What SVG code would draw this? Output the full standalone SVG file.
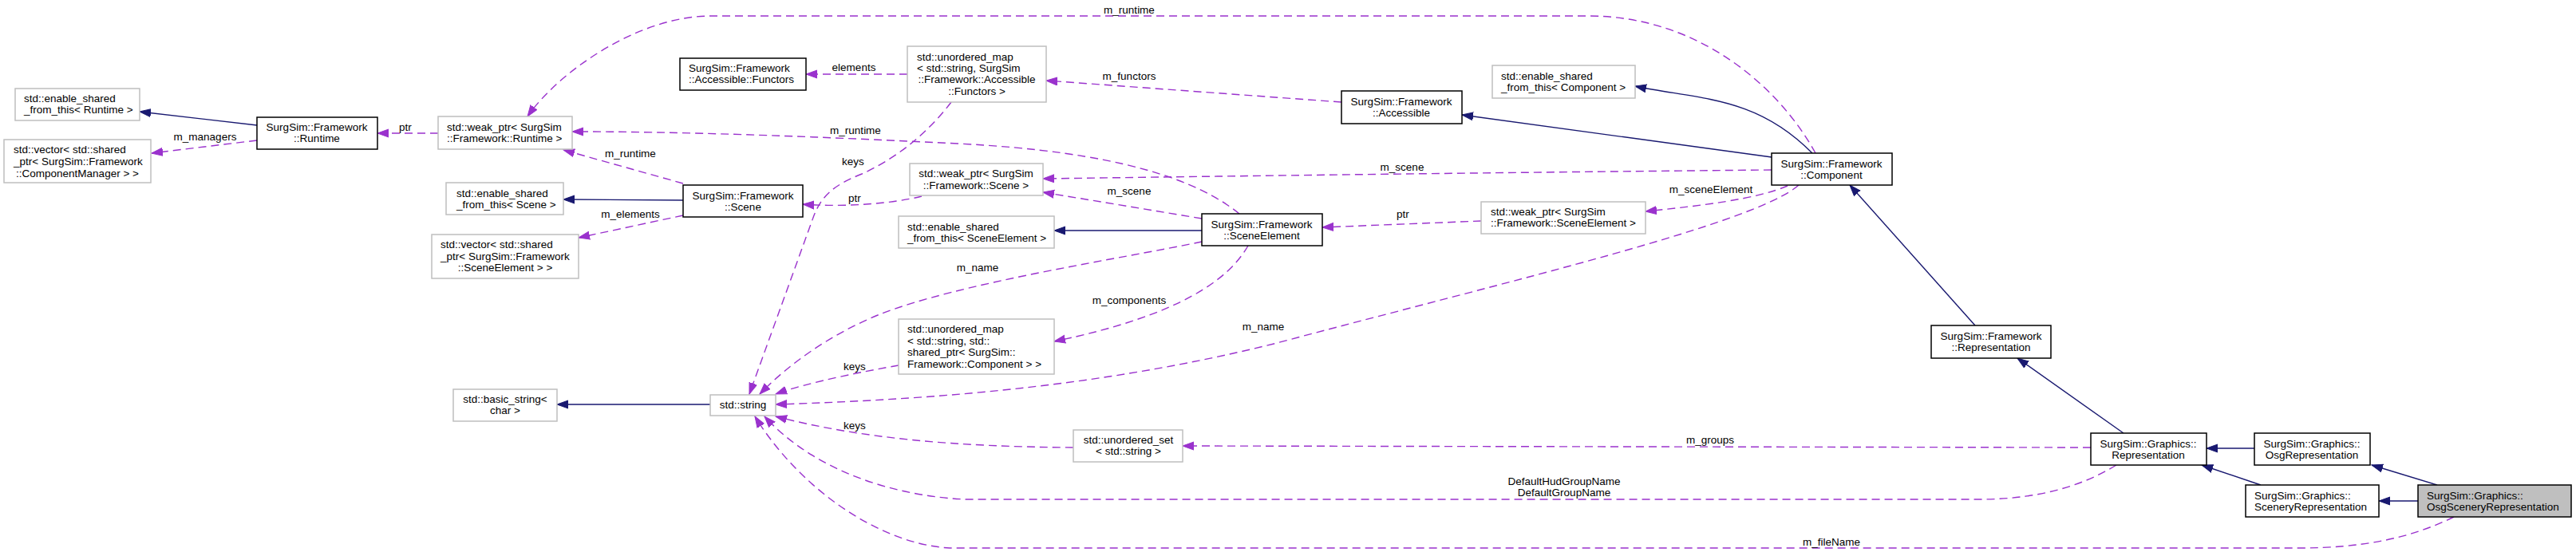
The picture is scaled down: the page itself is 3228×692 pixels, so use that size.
<svg xmlns="http://www.w3.org/2000/svg" width="3228" height="692" viewBox="0 0 3228 692">
<style>
text{font-family:"Liberation Sans",Arial,Helvetica,sans-serif;font-size:13.5px;fill:#000}
.m{text-anchor:middle}
rect.b{fill:#fff;stroke:#000;stroke-width:1.5}
rect.g{fill:#fff;stroke:#bfbfbf;stroke-width:1.5}
rect.f{fill:#bfbfbf;stroke:#000;stroke-width:1.5}
.inh path{fill:none;stroke:#191970;stroke-width:1.4;marker-end:url(#an)}
.use path{fill:none;stroke:#9a32cd;stroke-width:1.4;stroke-dasharray:10,6;marker-end:url(#ap)}
</style>
<defs>
<marker id="an" markerUnits="userSpaceOnUse" markerWidth="16" markerHeight="12" refX="14" refY="5.5" orient="auto"><path d="M0,0.5 L14,5.5 L0,10.5 z" fill="#191970" stroke="#191970" stroke-width="1"/></marker>
<marker id="ap" markerUnits="userSpaceOnUse" markerWidth="16" markerHeight="12" refX="14" refY="5.5" orient="auto"><path d="M0,0.5 L14,5.5 L0,10.5 z" fill="#9a32cd" stroke="#9a32cd" stroke-width="1"/></marker>
</defs>
<rect width="3228" height="692" fill="#fff"/>

<g id="connectors">
<g class="inh">
<path d="M322,157 L175,140"/>
<path d="M856,251 L706,250"/>
<path d="M1506,289 L1321,289"/>
<path d="M890,507 L698,507"/>
<path d="M2220,197 L1832,144"/>
<path d="M2271,192 C2200,120 2130,125 2049,108"/>
<path d="M2475,408 L2318,232"/>
<path d="M2661,543 L2528,449"/>
<path d="M2825,562 L2765,562"/>
<path d="M2833,608 L2759,583"/>
<path d="M3054,608 L2972,583"/>
<path d="M3030,628 L2981,628"/>
</g>
<g class="use">
<path d="M322,176 L190,192"/>
<path d="M549,167 L473,167"/>
<path d="M2275,192 C2230,110 2130,20 1990,20 L891,20 C800,20 700,90 661,146"/>
<path d="M1553,268 C1500,225 1400,190 1200,180 C1000,170 850,165 717,165"/>
<path d="M856,230 L706,188"/>
<path d="M1137,93 L1010,93"/>
<path d="M1681,128 L1311,101"/>
<path d="M1192,128 C1160,170 1120,200 1080,218 C1045,232 1030,245 1020,270 L939,494"/>
<path d="M2220,213 C1900,216 1600,220 1307,224"/>
<path d="M1506,274 L1307,241"/>
<path d="M1155,246 C1120,255 1060,260 1006,256"/>
<path d="M856,270 L725,298"/>
<path d="M1506,303 C1400,325 1200,355 1100,395 C1040,420 990,455 952,494"/>
<path d="M1564,308 C1540,350 1480,395 1321,428"/>
<path d="M1126,458 C1080,466 1010,480 972,494"/>
<path d="M2254,232 C2200,280 1900,350 1600,430 C1400,480 1200,500 972,507"/>
<path d="M1856,277 L1657,285"/>
<path d="M2240,233 C2200,250 2130,258 2062,265"/>
<path d="M1345,561 C1200,560 1080,550 972,522"/>
<path d="M2620,561 L1482,559"/>
<path d="M2652,583 C2600,615 2540,626 2480,626 L1210,626 C1120,622 1020,590 958,522"/>
<path d="M3075,648 C3020,675 2960,687 2880,687 L1190,687 C1100,682 1000,610 946,522"/>
</g>
<g id="edge-labels">
<text class="m" x="257" y="176">m_managers</text>
<text class="m" x="508" y="164">ptr</text>
<text class="m" x="1415" y="17">m_runtime</text>
<text class="m" x="1072" y="168">m_runtime</text>
<text class="m" x="790" y="197">m_runtime</text>
<text class="m" x="1070" y="89">elements</text>
<text class="m" x="1415" y="100">m_functors</text>
<text class="m" x="1069" y="207">keys</text>
<text class="m" x="1757" y="214">m_scene</text>
<text class="m" x="1415" y="244">m_scene</text>
<text class="m" x="1071" y="253">ptr</text>
<text class="m" x="790" y="273">m_elements</text>
<text class="m" x="1225" y="340">m_name</text>
<text class="m" x="1415" y="381">m_components</text>
<text class="m" x="1071" y="464">keys</text>
<text class="m" x="1583" y="414">m_name</text>
<text class="m" x="1758" y="273">ptr</text>
<text class="m" x="2144" y="242">m_sceneElement</text>
<text class="m" x="1071" y="538">keys</text>
<text class="m" x="2143" y="556">m_groups</text>
<text class="m" x="1960" y="608">DefaultHudGroupName</text>
<text class="m" x="1960" y="622">DefaultGroupName</text>
<text class="m" x="2295" y="684">m_fileName</text>
</g>
</g>

<g id="n_esft_runtime"><rect class="g" x="19" y="111" width="156" height="40"/><text x="30" y="128">std::enable_shared</text><text x="30" y="142">_from_this&lt; Runtime &gt;</text></g>
<g id="n_vec_cm"><rect class="g" x="5" y="175" width="184" height="54"/><text x="17" y="192">std::vector&lt; std::shared</text><text x="17" y="207">_ptr&lt; SurgSim::Framework</text><text class="m" x="97" y="222">::ComponentManager &gt; &gt;</text></g>
<g id="n_runtime"><rect class="b" x="322" y="147" width="151" height="40"/><text class="m" x="397" y="164">SurgSim::Framework</text><text class="m" x="397" y="178">::Runtime</text></g>
<g id="n_weak_runtime"><rect class="g" x="549" y="146" width="168" height="41"/><text x="560" y="164">std::weak_ptr&lt; SurgSim</text><text x="560" y="178">::Framework::Runtime &gt;</text></g>
<g id="n_functors"><rect class="b" x="852" y="73" width="158" height="40"/><text x="863" y="90">SurgSim::Framework</text><text x="863" y="104">::Accessible::Functors</text></g>
<g id="n_map_functors"><rect class="g" x="1137" y="58" width="174" height="70"/><text x="1149" y="76">std::unordered_map</text><text x="1149" y="90">&lt; std::string, SurgSim</text><text class="m" x="1224" y="104">::Framework::Accessible</text><text class="m" x="1224" y="119">::Functors &gt;</text></g>
<g id="n_accessible"><rect class="b" x="1681" y="114" width="151" height="41"/><text class="m" x="1756" y="132">SurgSim::Framework</text><text class="m" x="1756" y="146">::Accessible</text></g>
<g id="n_esft_component"><rect class="g" x="1870" y="82" width="179" height="41"/><text x="1881" y="100">std::enable_shared</text><text x="1881" y="114">_from_this&lt; Component &gt;</text></g>
<g id="n_component"><rect class="b" x="2220" y="192" width="151" height="40"/><text class="m" x="2295" y="210">SurgSim::Framework</text><text class="m" x="2295" y="224">::Component</text></g>
<g id="n_esft_scene"><rect class="g" x="559" y="229" width="147" height="40"/><text x="572" y="247">std::enable_shared</text><text x="572" y="261">_from_this&lt; Scene &gt;</text></g>
<g id="n_scene"><rect class="b" x="856" y="232" width="150" height="40"/><text class="m" x="931" y="250">SurgSim::Framework</text><text class="m" x="931" y="264">::Scene</text></g>
<g id="n_weak_scene"><rect class="g" x="1140" y="205" width="167" height="40"/><text class="m" x="1223" y="222">std::weak_ptr&lt; SurgSim</text><text class="m" x="1223" y="237">::Framework::Scene &gt;</text></g>
<g id="n_vec_se"><rect class="g" x="541" y="294" width="184" height="55"/><text x="552" y="311">std::vector&lt; std::shared</text><text x="552" y="326">_ptr&lt; SurgSim::Framework</text><text class="m" x="633" y="340">::SceneElement &gt; &gt;</text></g>
<g id="n_esft_se"><rect class="g" x="1126" y="271" width="195" height="40"/><text x="1137" y="289">std::enable_shared</text><text x="1137" y="303">_from_this&lt; SceneElement &gt;</text></g>
<g id="n_sceneelement"><rect class="b" x="1506" y="268" width="151" height="40"/><text class="m" x="1581" y="286">SurgSim::Framework</text><text class="m" x="1581" y="300">::SceneElement</text></g>
<g id="n_weak_se"><rect class="g" x="1856" y="253" width="206" height="40"/><text x="1868" y="270">std::weak_ptr&lt; SurgSim</text><text x="1868" y="284">::Framework::SceneElement &gt;</text></g>
<g id="n_map_component"><rect class="g" x="1126" y="400" width="195" height="69"/><text x="1137" y="417">std::unordered_map</text><text x="1137" y="432">&lt; std::string, std::</text><text x="1137" y="446">shared_ptr&lt; SurgSim::</text><text x="1137" y="461">Framework::Component &gt; &gt;</text></g>
<g id="n_basic_string"><rect class="g" x="568" y="488" width="130" height="40"/><text class="m" x="633" y="505">std::basic_string&lt;</text><text class="m" x="633" y="519">char &gt;</text></g>
<g id="n_string"><rect class="g" x="890" y="495" width="82" height="26"/><text class="m" x="931" y="512">std::string</text></g>
<g id="n_set"><rect class="g" x="1345" y="539" width="137" height="40"/><text class="m" x="1414" y="556">std::unordered_set</text><text class="m" x="1414" y="570">&lt; std::string &gt;</text></g>
<g id="n_fw_rep"><rect class="b" x="2420" y="408" width="150" height="41"/><text class="m" x="2495" y="426">SurgSim::Framework</text><text class="m" x="2495" y="440">::Representation</text></g>
<g id="n_gr_rep"><rect class="b" x="2620" y="543" width="145" height="40"/><text class="m" x="2692" y="561">SurgSim::Graphics::</text><text class="m" x="2692" y="575">Representation</text></g>
<g id="n_osg_rep"><rect class="b" x="2825" y="543" width="145" height="40"/><text class="m" x="2897" y="561">SurgSim::Graphics::</text><text class="m" x="2897" y="575">OsgRepresentation</text></g>
<g id="n_scenery_rep"><rect class="b" x="2814" y="608" width="167" height="40"/><text x="2825" y="626">SurgSim::Graphics::</text><text x="2825" y="640">SceneryRepresentation</text></g>
<g id="n_osg_scenery_rep"><rect class="f" x="3030" y="608" width="192" height="40"/><text x="3041" y="626">SurgSim::Graphics::</text><text x="3041" y="640">OsgSceneryRepresentation</text></g>
</svg>
